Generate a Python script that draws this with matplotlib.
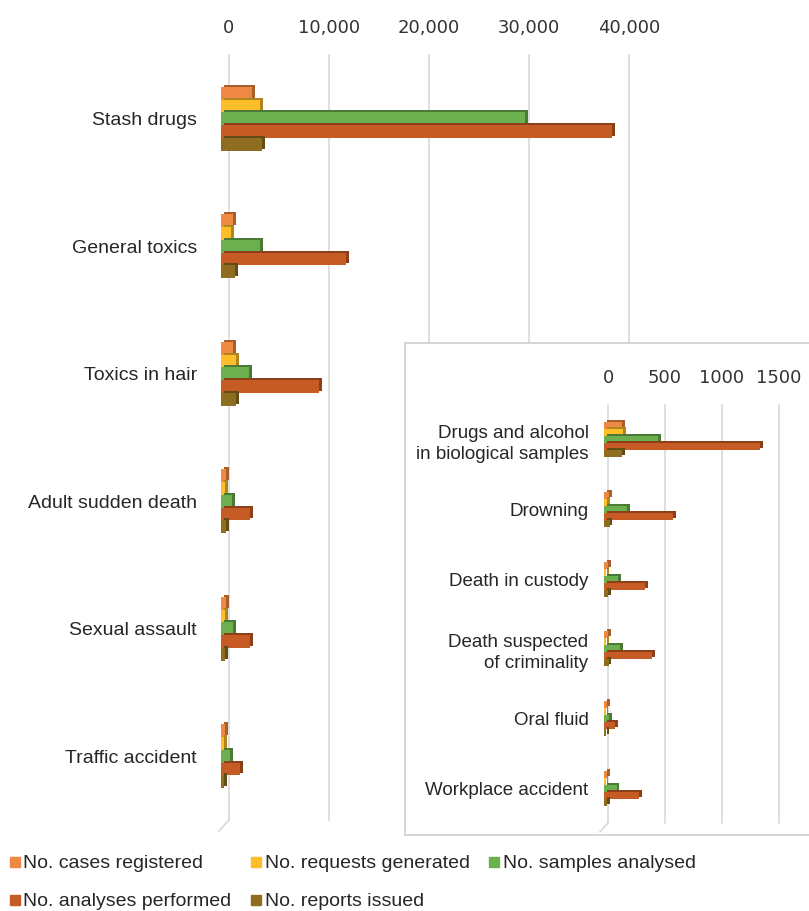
import numpy as np
import matplotlib.pyplot as plt
import matplotlib.transforms as mtransforms
import matplotlib.patheffects as pe
from matplotlib.lines import Line2D
from matplotlib.ticker import FuncFormatter

plt.rcParams['font.family'] = ['Liberation Sans', 'DejaVu Sans']

# main chart
main_cats = ["Stash drugs", "General toxics", "Toxics in hair",
             "Adult sudden death", "Sexual assault", "Traffic accident"]
main_cases = [3100, 1200, 1200, 500, 500, 400]
main_requests = [3900, 1000, 1500, 400, 400, 300]
main_samples = [30400, 3900, 2800, 1100, 1200, 900]
main_analyses = [39100, 12500, 9800, 2900, 2900, 1900]
main_reports = [4100, 1400, 1500, 500, 400, 300]
main_ticks = [0, 10000, 20000, 30000, 40000]

# inset chart
ins_cats = ["Drugs and alcohol\nin biological samples", "Drowning", "Death in custody",
            "Death suspected\nof criminality", "Oral fluid", "Workplace accident"]
ins_cases = [160, 45, 35, 35, 25, 30]
ins_requests = [165, 25, 20, 20, 15, 15]
ins_samples = [475, 200, 125, 140, 45, 110]
ins_analyses = [1370, 605, 360, 420, 95, 305]
ins_reports = [160, 50, 35, 40, 20, 30]
ins_ticks = [0, 500, 1000, 1500]

series_names = ["No. cases registered", "No. requests generated", "No. samples analysed",
                "No. analyses performed", "No. reports issued"]
colors = ['#EF8843', '#FDBE2A', '#6BAF4F', '#C65B25', '#8E6C20']

W, H = 809, 911
fig = plt.figure(figsize=(W / 100, H / 100), dpi=100)


def px_axes(x0, y0, x1, y1, **kw):
    return fig.add_axes([x0 / W, 1 - y1 / H, (x1 - x0) / W, (y1 - y0) / H], **kw)


def darker(c, f=0.7):
    r, g, b = [int(c[i:i + 2], 16) / 255 for i in (1, 3, 5)]
    return (r * f, g * f, b * f)


def draw_bars(ax, cats, data, bar_h, shift_px, slant_px, ticks, fmt, lab_pad, lab_size):
    y = np.arange(len(cats))
    shift = mtransforms.ScaledTranslation(-shift_px / 100, 0, fig.dpi_scale_trans)
    for i, (vals, col) in enumerate(zip(data, colors)):
        bars = ax.barh(y + (i - 2) * bar_h, vals, height=bar_h, color=col, zorder=3)
        for b in bars:
            b.set_transform(ax.transData + shift)
            b.set_clip_on(False)
            b.set_path_effects([pe.SimplePatchShadow(offset=(2, 1.5), shadow_rgbFace=darker(col), alpha=1),
                                pe.Normal()])
    # gridlines with a little floor slant at the bottom
    tr = mtransforms.blended_transform_factory(ax.transData, ax.transAxes)
    for t in ticks:
        ax.plot([t, t], [1, 0], color='#D9D9D9', lw=1.2, transform=tr, zorder=1, clip_on=False)
        p0 = tr.transform((t, 0))
        ln = Line2D([p0[0], p0[0] - slant_px], [p0[1], p0[1] - slant_px * 1.1],
                    color='#D9D9D9', lw=1.2, clip_on=False, zorder=1,
                    transform=mtransforms.IdentityTransform())
        ax.add_line(ln)
    ax.set_yticks(y)
    ax.set_yticklabels(cats, fontsize=lab_size, color='#262626', linespacing=1.35)
    ax.set_xticks(ticks)
    ax.xaxis.set_major_formatter(FuncFormatter(fmt))
    ax.xaxis.tick_top()
    ax.tick_params(axis='x', length=0, pad=13, labelcolor='#333333')
    for lab in ax.get_xticklabels():
        lab.set_fontfamily('DejaVu Sans')
        lab.set_fontsize(13)
    ax.tick_params(axis='y', length=0, pad=lab_pad)
    ax.set_xlim(ticks[0], ticks[-1])
    ax.set_ylim(len(cats) - 0.5, -0.5)
    for s in ax.spines.values():
        s.set_visible(False)


ax = px_axes(229, 55, 629, 820)
draw_bars(ax, main_cats, [main_cases, main_requests, main_samples, main_analyses, main_reports],
          0.1, 8, 10, main_ticks, lambda v, p: f"{int(v):,}", 23, 14)

# inset frame
box = px_axes(405, 343, 812, 835)
box.set_xticks([])
box.set_yticks([])
for s in box.spines.values():
    s.set_color('#D0D0D0')
    s.set_linewidth(1.2)
box.set_facecolor('white')

ins = px_axes(608, 405, 779, 823)
ins.patch.set_alpha(0)
draw_bars(ins, ins_cats, [ins_cases, ins_requests, ins_samples, ins_analyses, ins_reports],
          0.1, 4, 8, ins_ticks, lambda v, p: f"{int(v)}", 14, 13.5)
for lab in ins.get_yticklabels():
    lab.set_multialignment('right')

# legend fills column by column, so reorder to read row-wise like the original
order = [0, 3, 1, 4, 2]
handles = [Line2D([], [], marker='s', ls='none', color=colors[k], markersize=7) for k in order]
fig.legend(handles, [series_names[k] for k in order], loc='lower left',
           bbox_to_anchor=(0.0, -0.009), ncol=3, frameon=False, fontsize=14,
           handlelength=0.6, handletextpad=0.15, columnspacing=0.95, labelspacing=1.05,
           borderaxespad=0.05, labelcolor='#262626')

fig.savefig('out.png', dpi=100)
